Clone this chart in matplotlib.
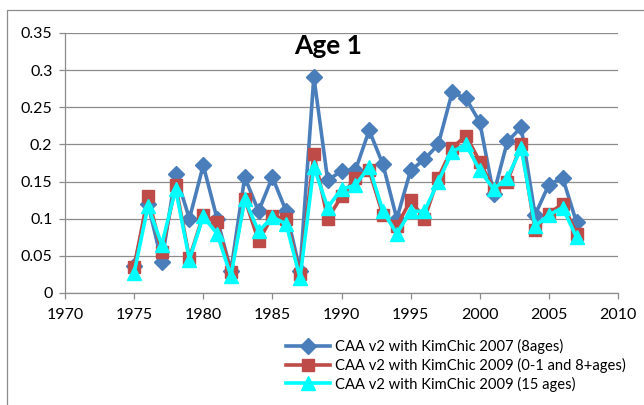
import matplotlib
matplotlib.use('Agg')
import matplotlib.pyplot as plt
from matplotlib.patches import Rectangle

years = list(range(1975, 2008))
kim2007 = [0.036, 0.12, 0.042, 0.16, 0.10, 0.172, 0.10, 0.03, 0.156, 0.11, 0.156, 0.11,
           0.03, 0.291, 0.152, 0.164, 0.165, 0.219, 0.173, 0.10, 0.165, 0.18, 0.20, 0.27,
           0.262, 0.23, 0.133, 0.204, 0.223, 0.105, 0.146, 0.155, 0.095]
kim2009_01 = [0.035, 0.13, 0.055, 0.145, 0.047, 0.105, 0.095, 0.028, 0.127, 0.07, 0.103, 0.10,
              0.025, 0.187, 0.10, 0.13, 0.155, 0.165, 0.105, 0.09, 0.125, 0.10, 0.155, 0.195,
              0.212, 0.177, 0.14, 0.15, 0.20, 0.085, 0.107, 0.12, 0.08]
kim2009_15 = [0.027, 0.117, 0.065, 0.14, 0.045, 0.103, 0.08, 0.023, 0.126, 0.083, 0.102, 0.093,
              0.02, 0.17, 0.115, 0.14, 0.145, 0.17, 0.11, 0.08, 0.11, 0.11, 0.15, 0.19,
              0.20, 0.165, 0.14, 0.155, 0.195, 0.09, 0.105, 0.115, 0.075]
labels = ['CAA v2 with KimChic 2007 (8ages)',
          'CAA v2 with KimChic 2009 (0-1 and 8+ages)',
          'CAA v2 with KimChic 2009 (15 ages)']
xticks = [1970, 1975, 1980, 1985, 1990, 1995, 2000, 2005, 2010]
yticks = [0, 0.05, 0.1, 0.15, 0.2, 0.25, 0.3, 0.35]

plt.rcParams['font.family'] = ['Lato', 'DejaVu Sans']

fig = plt.figure(figsize=(6.44, 4.05), dpi=100)
W, H = 644, 405
# chart area border (only top/left visible in the original crop)
fig.patches.append(Rectangle((7 / W, -0.1), 1.2, 1 - 10 / H + 0.1, transform=fig.transFigure,
                             fill=False, edgecolor='#8c8c8c', linewidth=0.9))

ax = fig.add_axes([65 / W, 1 - 293 / H, (618 - 65) / W, (293 - 33) / H])

ax.plot(years, kim2007, color='#4A7EBB', lw=2.6, marker='D', ms=8, label=labels[0])
ax.plot(years, kim2009_01, color='#BE4B48', lw=2.6, marker='s', ms=8.5, label=labels[1])
ax.plot(years, kim2009_15, color='#00FFFF', lw=2.6, marker='^', ms=9.5, label=labels[2])

ax.set_xlim(1970, 2010)
ax.set_ylim(0, 0.35)
ax.set_xticks(xticks)
ax.set_yticks(yticks)
ax.set_yticklabels(['0', '0.05', '0.1', '0.15', '0.2', '0.25', '0.3', '0.35'])
ax.grid(axis='y', color='#8c8c8c', lw=0.9)
ax.set_axisbelow(True)
for s in ['top', 'right']:
    ax.spines[s].set_visible(False)
for s in ['left', 'bottom']:
    ax.spines[s].set_color('#8c8c8c')
    ax.spines[s].set_linewidth(0.9)
ax.tick_params(axis='both', colors='#8c8c8c', labelcolor='black', labelsize=11.5,
               length=4, width=0.9, direction='out')
ax.tick_params(axis='x', pad=7)
ax.tick_params(axis='y', pad=5)

ax.text(0.475, 0.995, 'Age 1', transform=ax.transAxes, ha='center', va='top',
        fontsize=19, fontweight='bold')

fig.legend(loc='upper left', bbox_to_anchor=(286 / W, 1 - 339 / H), frameon=False,
           fontsize=10.6, handlelength=3.0, handletextpad=0.3, labelspacing=0.25,
           borderpad=0, borderaxespad=0)

fig.savefig('out.png', dpi=100)
